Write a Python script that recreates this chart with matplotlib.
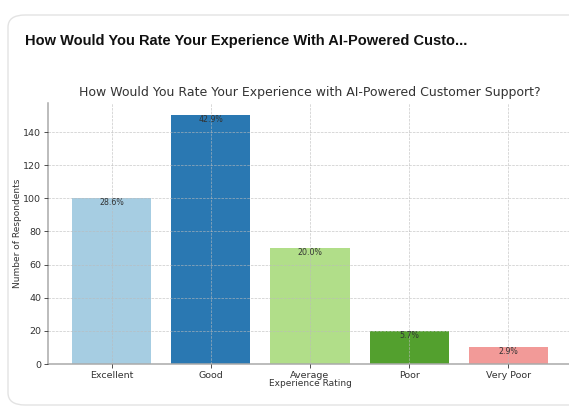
import matplotlib
matplotlib.use("Agg")
import matplotlib.pyplot as plt
from matplotlib.patches import FancyBboxPatch

# survey answers
ratings = ["Excellent", "Good", "Average", "Poor", "Very Poor"]
respondents = [100, 150, 70, 20, 10]
bar_colors = ["#a6cde2", "#2a78b2", "#b1de89", "#53a02e", "#f29a98"]
yticks = [0, 20, 40, 60, 80, 100, 120, 140]

W, H = 569, 408
fig = plt.figure(figsize=(W / 100, H / 100), dpi=100)
fig.patch.set_facecolor("white")

# card frame behind the chart
card = FancyBboxPatch((8 / W, 3 / H), 700 / W, 390 / H,
                      boxstyle="round,pad=0,rounding_size=0.03",
                      transform=fig.transFigure, facecolor="white",
                      edgecolor="#e3e3e3", linewidth=1.0, zorder=-1)
fig.patches.append(card)
fig.text(25 / W, 1 - 41 / H, "How Would You Rate Your Experience With AI-Powered Custo...",
         fontsize=10.5, fontweight="bold", family="Liberation Sans",
         color="#111111", va="center", ha="left")

ax = fig.add_axes([48 / W, (H - 364) / H, (572 - 48) / W, (364 - 103) / H])
ax.set_facecolor("none")
ax.set_zorder(2)

total = sum(respondents)
bars = ax.bar(ratings, respondents, color=bar_colors, width=0.8, zorder=1)
for b, v in zip(bars, respondents):
    ax.text(b.get_x() + b.get_width() / 2, v, f"{v / total * 100:.1f}%",
            ha="center", va="top", fontsize=5.7, color="#333333", zorder=3)

ax.set_yticks(yticks)
ax.grid(True, linestyle="--", linewidth=0.5, color="#bbbbbb", alpha=0.8, zorder=2)
ax.set_axisbelow(False)

ax.set_title("How Would You Rate Your Experience with AI-Powered Customer Support?",
             fontsize=9, color="#333333", pad=5)
ax.set_xlabel("Experience Rating", fontsize=6.5, color="#333333", labelpad=-1)
ax.set_ylabel("Number of Respondents", fontsize=6.5, color="#333333", labelpad=1)
ax.tick_params(axis="both", labelsize=6.8, colors="#333333", length=3, width=0.6, pad=2)

for side in ["top", "right"]:
    ax.spines[side].set_visible(False)
for side in ["left", "bottom"]:
    ax.spines[side].set_color("#aaaaaa")
    ax.spines[side].set_linewidth(1.1)

fig.savefig("out.png", dpi=100)
